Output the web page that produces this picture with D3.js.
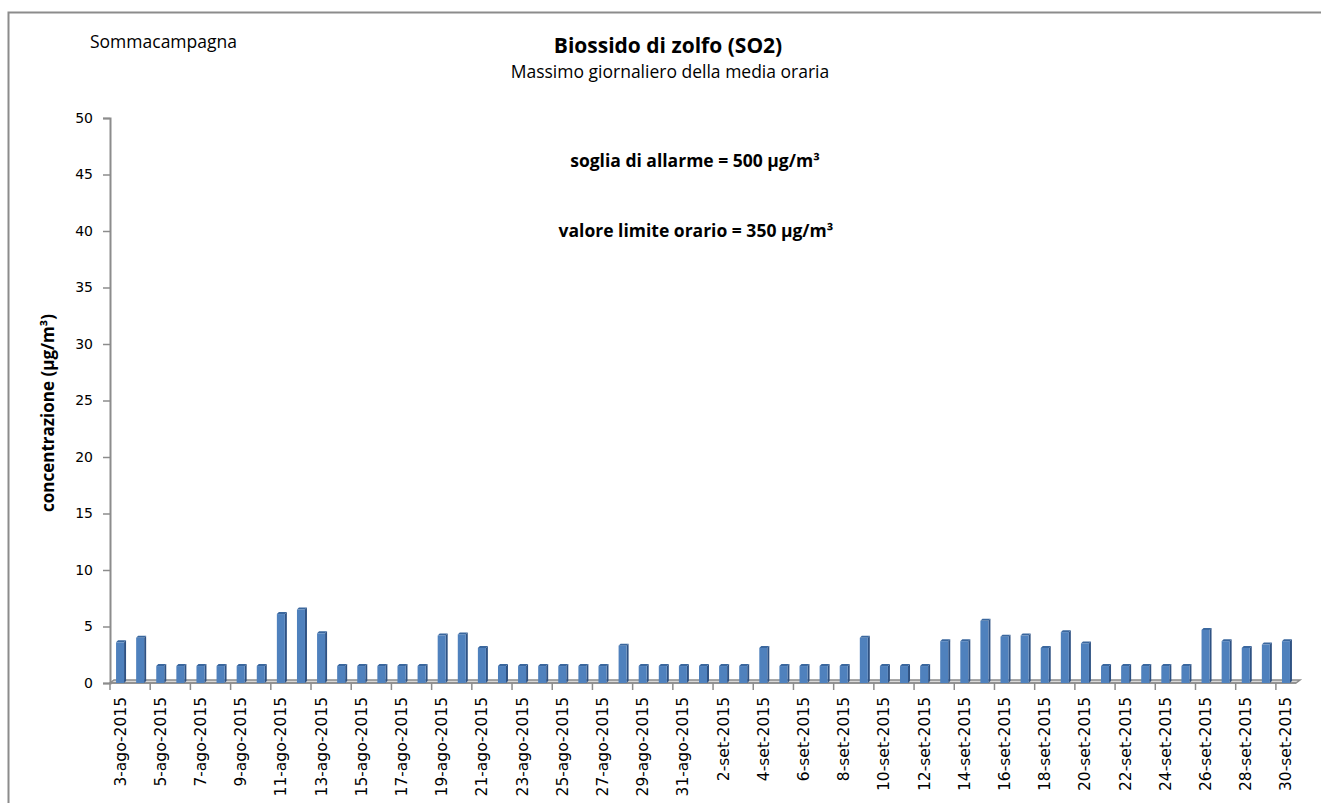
<!DOCTYPE html>
<html>
<head>
<meta charset="utf-8">
<script src="https://cdn.jsdelivr.net/npm/d3@7"></script>
<style>
  body { margin: 0; background: #fff; }
  text { font-family: "Open Sans", Lato, sans-serif; fill: #000; }
</style>
</head>
<body>
<div id="chart"></div>
<script>
// dati: massimo giornaliero della media oraria SO2 (µg/m3), Sommacampagna
const agosto = d3.range(3, 32).map(d => d + "-ago-2015");
const settembre = d3.range(1, 31).map(d => d + "-set-2015");
const giorni = agosto.concat(settembre);

const valori = [
  3.6, 4.0, 1.5, 1.5, 1.5, 1.5, 1.5, 1.5, 6.1, 6.5,   // 3-12 ago
  4.4, 1.5, 1.5, 1.5, 1.5, 1.5, 4.2, 4.3, 3.1, 1.5,   // 13-22 ago
  1.5, 1.5, 1.5, 1.5, 1.5, 3.3, 1.5, 1.5, 1.5,        // 23-31 ago
  1.5, 1.5, 1.5, 3.1, 1.5, 1.5, 1.5, 1.5, 4.0, 1.5,   // 1-10 set
  1.5, 1.5, 3.7, 3.7, 5.5, 4.1, 4.2, 3.1, 4.5, 3.5,   // 11-20 set
  1.5, 1.5, 1.5, 1.5, 1.5, 4.7, 3.7, 3.1, 3.4, 3.7    // 21-30 set
];
const yTicks = d3.range(0, 55, 5);

const width = 1321, height = 803;
const svg = d3.select("#chart").append("svg")
  .attr("width", width)
  .attr("height", height);

// cornice
svg.append("rect")
  .attr("x", 8.5).attr("y", 12.5)
  .attr("width", 1330).attr("height", 820)
  .attr("fill", "none")
  .attr("stroke", "#8c8c8c")
  .attr("stroke-width", 2);

// scale
let x = d3.scaleBand().domain(giorni).range([110, 1296]).padding(0);
let y = d3.scaleLinear().domain([0, 50]).range([683, 118]);

const depthX = 4, depthY = 3;

// pavimento 3D
const x0 = x.range()[0], x1 = x.range()[1];
svg.append("path")
  .attr("d", `M${x0},${y(0)}L${x1},${y(0)}L${x1 + depthX},${y(0) - depthY}L${x0 + depthX},${y(0) - depthY}Z`)
  .attr("fill", "#d9d9d9")
  .attr("stroke", "#8c8c8c")
  .attr("stroke-width", 1.5);

// asse Y
let axisY = d3.axisLeft(y).tickValues(yTicks).tickSize(7).tickPadding(10);
let gY = svg.append("g")
  .attr("transform", `translate(${x0},0)`)
  .call(axisY);
gY.select(".domain").attr("stroke", "#8c8c8c").attr("stroke-width", 2);
gY.selectAll(".tick line").attr("stroke", "#8c8c8c").attr("stroke-width", 1.5);
gY.selectAll(".tick text")
  .style("font-family", "'DejaVu Sans', sans-serif")
  .style("font-size", "14px")
  .attr("fill", "#000");

// asse X: tacche ogni 2 giorni, etichette ogni 2 giorni
let gX = svg.append("g").attr("transform", `translate(0,${y(0)})`);
gX.append("line")
  .attr("x1", x0).attr("x2", x1)
  .attr("stroke", "#8c8c8c").attr("stroke-width", 1.5);
let tickPos = d3.range(0, giorni.length + 1, 2).map(i => x0 + i * x.step());
gX.selectAll("line.tk").data(tickPos).enter().append("line")
  .attr("class", "tk")
  .attr("x1", d => d).attr("x2", d => d)
  .attr("y1", 0).attr("y2", 7)
  .attr("stroke", "#8c8c8c").attr("stroke-width", 1.5);
gX.selectAll("text").data(giorni.filter((d, i) => i % 2 === 0)).enter().append("text")
  .attr("transform", d => `translate(${x(d) + x.bandwidth() / 2 + 5.5},14) rotate(-90)`)
  .attr("text-anchor", "end")
  .style("font-family", "'DejaVu Sans', sans-serif")
  .style("font-size", "15.5px")
  .text(d => d);

// barre 3D
const barW = 8;
let bars = svg.append("g").selectAll("g").data(valori).enter().append("g");
bars.append("path") // lato
  .attr("d", (d, i) => {
    let xl = x(giorni[i]) + x.bandwidth() / 2 - barW / 2 + barW;
    return `M${xl},${y(d)}L${xl + 2},${y(d) - 2}L${xl + 2},${y(0) - 2}L${xl},${y(0)}Z`;
  })
  .attr("fill", "#2f5283");
bars.append("path") // sopra
  .attr("d", (d, i) => {
    let xl = x(giorni[i]) + x.bandwidth() / 2 - barW / 2;
    return `M${xl},${y(d)}L${xl + barW},${y(d)}L${xl + barW + 2},${y(d) - 2}L${xl + 2},${y(d) - 2}Z`;
  })
  .attr("fill", "#3a679e");
bars.append("rect") // fronte
  .attr("x", (d, i) => x(giorni[i]) + x.bandwidth() / 2 - barW / 2)
  .attr("y", d => y(d))
  .attr("width", barW)
  .attr("height", d => y(0) - y(d))
  .attr("fill", "#4f81bd");

// titoli
svg.append("text")
  .attr("x", 90).attr("y", 48)
  .style("font-size", "17.5px")
  .text("Sommacampagna");
svg.append("text")
  .attr("x", 668).attr("y", 53)
  .attr("text-anchor", "middle")
  .style("font-size", "21px").style("font-weight", "bold")
  .text("Biossido di zolfo (SO2)");
svg.append("text")
  .attr("x", 670).attr("y", 78)
  .attr("text-anchor", "middle")
  .style("font-size", "17.5px")
  .text("Massimo giornaliero  della media oraria");
svg.append("text")
  .attr("x", 695).attr("y", 167)
  .attr("text-anchor", "middle")
  .style("font-size", "17.5px").style("font-weight", "bold")
  .text("soglia di allarme = 500 µg/m³");
svg.append("text")
  .attr("x", 696).attr("y", 237)
  .attr("text-anchor", "middle")
  .style("font-size", "17.5px").style("font-weight", "bold")
  .text("valore limite orario = 350 µg/m³");

// titolo asse Y
svg.append("text")
  .attr("transform", "translate(54,413) rotate(-90)")
  .attr("text-anchor", "middle")
  .style("font-size", "17px").style("font-weight", "bold")
  .text("concentrazione (µg/m³)");
</script>
</body>
</html>
